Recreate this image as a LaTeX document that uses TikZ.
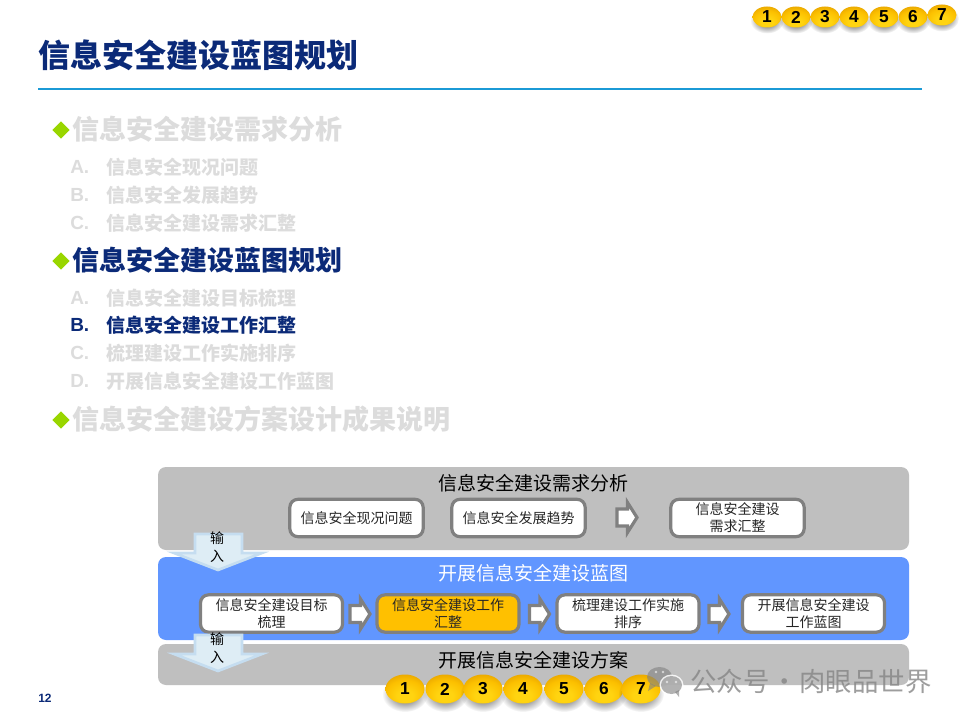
\documentclass[tikz,border=0pt]{standalone}
\usepackage{fontspec}
\setmainfont{Noto Sans CJK SC}
\newfontfamily\latinfont{Liberation Sans}
\usetikzlibrary{shapes.geometric,calc,fadings}
\definecolor{navy}{HTML}{0B2A78}
\definecolor{faded}{HTML}{DCDCDC}
\definecolor{rulecol}{HTML}{1B9AD6}
\definecolor{panelgray}{HTML}{BFBFBF}
\definecolor{panelblue}{HTML}{6196FF}
\definecolor{boxline}{HTML}{808080}
\definecolor{amber}{HTML}{FFC000}
\definecolor{dfill}{HTML}{DEEDF5}
\definecolor{dline}{HTML}{C5DDF0}
\definecolor{bullet}{HTML}{99D600}
\definecolor{ballA}{HTML}{FFD410}
\definecolor{ballB}{HTML}{FCC000}
\definecolor{ballC}{HTML}{E09C00}
\definecolor{ballD}{HTML}{A87800}
\pgfdeclareradialshading{ballshade}{\pgfpoint{0bp}{-14bp}}{
  color(0bp)=(ballA); color(10bp)=(ballA); color(24bp)=(ballB); color(38bp)=(ballC); color(58bp)=(ballD); color(66bp)=(ballD)}
\tikzfading[name=softedge,inner color=transparent!25,outer color=transparent!100]
\newcommand{\fs}[1]{\fontsize{#1}{#1}\selectfont}
\tikzset{
  x=0.75pt,y=-0.75pt,
  flowbox/.style={draw=boxline,line width=2.4pt,fill=white,rounded corners=6pt,minimum width=100pt,minimum height=28pt,inner sep=0pt,align=center,text=black!85,font=\fontsize{10.5}{12.75}\selectfont},
  section/.style={anchor=west,inner sep=0pt,font=\fs{20.25}\bfseries},
  subitem/.style={anchor=west,inner sep=0pt,font=\fs{14.25}\bfseries},
  subletter/.style={anchor=west,inner sep=0pt,font=\latinfont\fs{14.25}\bfseries},
  tick/.style={diamond,aspect=1,fill=bullet,inner sep=0pt,minimum size=13pt},
  paneltitle/.style={inner sep=0pt,font=\fs{14.25}},
  blockarrow/.style={draw=boxline,line width=2.4pt,fill=white,miter limit=10},
  downarrow/.style={draw=dline,line width=2pt,fill=dfill,line join=miter},
  inputlabel/.style={inner sep=0pt,font=\fs{10.5},text=black},
  wmark/.style={fill=black!50,opacity=.6},
}
\newcommand{\topball}[4]{
  \fill[black,path fading=softedge] (#2,#3+3.5) ellipse [x radius=17,y radius=13];
  \path[shading=ballshade] (#2,#3) ellipse [x radius=14.5,y radius=10.5];
  \node[inner sep=0pt,font=\latinfont\fs{13}\bfseries] (#1) at (#2,#3) {#4};
}
\newcommand{\lowball}[4]{
  \fill[black,path fading=softedge] (#2,#3+5) ellipse [x radius=23,y radius=18];
  \path[shading=ballshade] (#2,#3) ellipse [x radius=19.5,y radius=14.5];
  \node[inner sep=0pt,font=\latinfont\fs{13}\bfseries] (#1) at (#2,#3) {#4};
}
\newcommand{\blockarr}[2]{
  \draw[blockarrow] (#1+1.5,#2-8.5) -- (#1+12,#2-8.5) -- (#1+12,#2-15) -- (#1+21.5,#2) -- (#1+12,#2+15) -- (#1+12,#2+8.5) -- (#1+1.5,#2+8.5) -- cycle;
}
\newcommand{\downarr}[1]{
  \draw[downarrow] (195,#1+1) -- (242,#1+1) -- (242,#1+20) -- (262,#1+20) -- (218,#1+37) -- (174,#1+20) -- (195,#1+20) -- cycle;
}
\begin{document}
\begin{tikzpicture}
\useasboundingbox (0,0) rectangle (960,720);
\fill[white] (0,0) rectangle (960,720);
% header
\node[anchor=west,inner sep=0pt,text=navy,font=\fs{24}\bfseries] (title) at (38,55) {信息安全建设蓝图规划};
\coordinate (ruleL) at (38,89);
\coordinate (ruleR) at (922,89);
\draw[rulecol,line width=2.1pt] (ruleL) -- (ruleR);
% top balls
\topball{ta}{767}{17}{1}
\topball{tb}{796}{17}{2}
\topball{tc}{825}{17}{3}
\topball{td}{854}{17}{4}
\topball{te}{884}{17}{5}
\topball{tf}{913}{17}{6}
\topball{tg}{942}{15}{7}
% outline
\node[tick] (b1) at (61,130) {};
\node[section,text=faded] (s1) at (72,129) {信息安全建设需求分析};
\node[subletter,text=faded] (a1) at (70,167) {A.};
\node[subitem,text=faded] (t1) at (106,167) {信息安全现况问题};
\node[subletter,text=faded] (a2) at (70,195) {B.};
\node[subitem,text=faded] (t2) at (106,195) {信息安全发展趋势};
\node[subletter,text=faded] (a3) at (70,223) {C.};
\node[subitem,text=faded] (t3) at (106,223) {信息安全建设需求汇整};
\node[tick] (b2) at (61,261) {};
\node[section,text=navy] (s2) at (72,260) {信息安全建设蓝图规划};
\node[subletter,text=faded] (a4) at (70,298) {A.};
\node[subitem,text=faded] (t4) at (106,298) {信息安全建设目标梳理};
\node[subletter,text=navy] (a5) at (70,325) {B.};
\node[subitem,text=navy] (t5) at (106,325) {信息安全建设工作汇整};
\node[subletter,text=faded] (a6) at (70,353) {C.};
\node[subitem,text=faded] (t6) at (106,353) {梳理建设工作实施排序};
\node[subletter,text=faded] (a7) at (70,381) {D.};
\node[subitem,text=faded] (t7) at (106,381) {开展信息安全建设工作蓝图};
\node[tick] (b3) at (61,420) {};
\node[section,text=faded] (s3) at (72,419) {信息安全建设方案设计成果说明};
% panels
\fill[panelgray,rounded corners=6pt] (158,467) rectangle (909,550);
\fill[panelblue,rounded corners=6pt] (158,557) rectangle (909,640);
\fill[panelgray,rounded corners=6pt] (158,644) rectangle (909,685);
\node[paneltitle] (p1) at (533,483) {信息安全建设需求分析};
\node[paneltitle,text=white] (p2) at (533,573) {开展信息安全建设蓝图};
\node[paneltitle] (p3) at (533,660) {开展信息安全建设方案};
% row 1
\node[flowbox] (r1a) at (356.5,518) {信息安全现况问题};
\node[flowbox] (r1b) at (518.5,518) {信息安全发展趋势};
\node[flowbox] (r1c) at (737.5,518) {信息安全建设\\需求汇整};
\blockarr{615.5}{517.5}
% row 2
\node[flowbox,minimum width=106.5pt] (r2a) at (271.5,613.5) {信息安全建设目标\\梳理};
\node[flowbox,minimum width=106.5pt,fill=amber] (r2b) at (448,613.5) {信息安全建设工作\\汇整};
\node[flowbox,minimum width=106.5pt] (r2c) at (628,613.5) {梳理建设工作实施\\排序};
\node[flowbox,minimum width=106.5pt] (r2d) at (813.5,613.5) {开展信息安全建设\\工作蓝图};
\blockarr{348.5}{614}
\blockarr{528}{614}
\blockarr{707.5}{614}
% inputs
\downarr{533}
\node[inputlabel] (i1a) at (217,538) {输};
\node[inputlabel] (i1b) at (217,556) {入};
\downarr{634}
\node[inputlabel] (i2a) at (217,639) {输};
\node[inputlabel] (i2b) at (217,657) {入};
% bottom balls
\lowball{la}{405}{689}{1}
\lowball{lb}{445}{689}{2}
\lowball{lc}{483}{689}{3}
\lowball{ld}{523}{689}{4}
\lowball{le}{564}{689}{5}
\lowball{lf}{604}{689}{6}
\lowball{lg}{641}{689}{7}
% page number
\node[inner sep=0pt,text=navy,font=\latinfont\fs{9}\bfseries] (page) at (45,698) {12};
% watermark
\fill[wmark] (659.5,677) ellipse [x radius=12.5,y radius=10];
\fill[wmark] (650,683) -- (648,691) -- (656,686) -- cycle;
\fill[white,opacity=.85] (671.5,685) ellipse [x radius=12,y radius=10.5];
\fill[wmark] (671.5,685) ellipse [x radius=10.5,y radius=9];
\fill[wmark] (675,692) -- (679,697) -- (679,690) -- cycle;
\fill[white,opacity=.6] (656,672) circle (1.4) (663,672) circle (1.4) (667,682) circle (1.3) (676,682) circle (1.3);
\node[anchor=west,inner sep=0pt,text=black!48,opacity=.8,font=\fs{19.8}] (mark) at (690,681) {公众号\makebox[22.5pt]{·}肉眼品世界};
\end{tikzpicture}
\end{document}
